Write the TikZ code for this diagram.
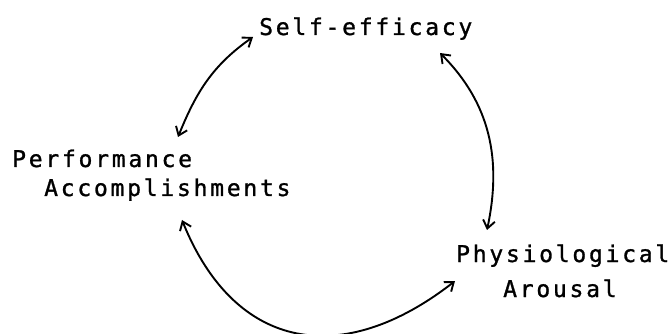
\documentclass[tikz,border=0pt]{standalone}
\usepackage{fontspec}
\newfontfamily\plotfont[LetterSpace=12,FakeBold=1.2]{DejaVu Sans Mono}
\usetikzlibrary{arrows.meta}

\begin{document}
\begin{tikzpicture}[
  x=1pt,y=1pt,
  >={Straight Barb[length=8pt,width=12pt]},
  lbl/.style={font=\plotfont\fontsize{23}{27}\selectfont,inner sep=0pt,anchor=base west},
  link/.style={<->,line width=1.9pt},
]
\useasboundingbox (0,0) rectangle (670,-334);

\node[lbl] (self) at (259,-35) {Self-efficacy};
\node[lbl] (perf) at (12,-167) {Performance};
\node[lbl] (accomp) at (44,-196) {Accomplishments};
\node[lbl] (phys) at (456,-262) {Physiological};
\node[lbl] (arousal) at (503,-297) {Arousal};

\draw[link] ([shift={(166,30)}]perf.base west) to[out=68,in=215] ([shift={(-6,-2)}]self.base west);
\draw[link] ([shift={(181,-18)}]self.base west) to[out=-45,in=78] ([shift={(31,32)}]phys.base west);
\draw[link] ([shift={(138,-24)}]accomp.base west) to[out=-68,in=218,looseness=1.3] ([shift={(-1,-19)}]phys.base west);

\end{tikzpicture}
\end{document}
